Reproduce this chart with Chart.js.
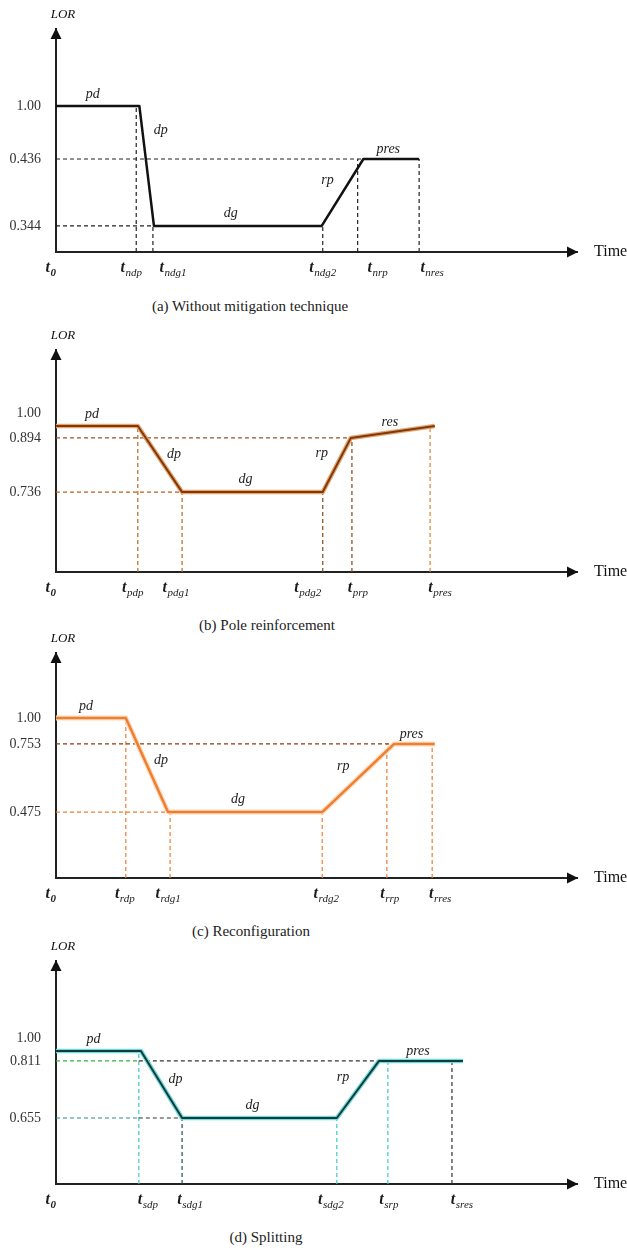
<!DOCTYPE html>
<html>
<head>
  <title>LOR over time - mitigation techniques</title>
  <meta charset="utf-8">
  <script src="https://cdn.jsdelivr.net/npm/chart.js"></script>
  <style>
    body {
      margin: 0;
      background: #fff;
    }
    .page {
      position: relative;
      width: 627px;
      height: 1248px;
      overflow: hidden;
    }
    .page canvas {
      position: absolute;
      left: 0;
    }
    .caption {
      position: absolute;
      font-family: "Liberation Serif", "DejaVu Serif", serif;
      font-size: 15px;
      line-height: 18px;
      color: #222;
      white-space: nowrap;
      transform: translateX(-50%);
    }
  </style>
</head>
<body>
  <div class="page" id="page"></div>

  <script>
    // ---- data ----
    // time is in arbitrary units (0 = t0, 100 = end of the time arrow)
    var timeA = [0, 16, 18.8, 51, 59, 69.7];
    var lorA = [1.00, 1.00, 0.344, 0.344, 0.436, 0.436];
    var tickTimeA = [15.4, 18.6, 51.2, 57.9, 69.7];
    var tickSubA = ['ndp', 'ndg1', 'ndg2', 'nrp', 'nres'];
    var levelsA = [0.344, 0.436, 1.00];
    var levelTextA = ['0.344', '0.436', '1.00'];
    var phasesA = ['pd', 'dp', 'dg', 'rp', 'pres'];

    var timeB = [0, 15.7, 24.2, 51.2, 56.6, 72.7];
    var lorB = [0.945, 0.945, 0.736, 0.736, 0.894, 0.945];
    var tickTimeB = [15.7, 24.2, 51.2, 56.8, 71.8];
    var tickSubB = ['pdp', 'pdg1', 'pdg2', 'prp', 'pres'];
    var levelsB = [0.736, 0.894, 1.00];
    var levelTextB = ['0.736', '0.894', '1.00'];
    var phasesB = ['pd', 'dp', 'dg', 'rp', 'res'];

    var timeC = [0, 13.4, 21.5, 51.1, 64.9, 72.7];
    var lorC = [1.00, 1.00, 0.475, 0.475, 0.753, 0.753];
    var tickTimeC = [13.4, 21.9, 51.1, 63.5, 72.2];
    var tickSubC = ['rdp', 'rdg1', 'rdg2', 'rrp', 'rres'];
    var levelsC = [0.475, 0.753, 1.00];
    var levelTextC = ['0.475', '0.753', '1.00'];
    var phasesC = ['pd', 'dp', 'dg', 'rp', 'pres'];

    var timeD = [0, 16.3, 24.2, 53.9, 62, 78.1];
    var lorD = [0.893, 0.893, 0.655, 0.655, 0.811, 0.811];
    var tickTimeD = [15.9, 24.2, 53.9, 63.7, 76.0];
    var tickSubD = ['sdp', 'sdg1', 'sdg2', 'srp', 'sres'];
    var levelsD = [0.655, 0.811, 1.00];
    var levelTextD = ['0.655', '0.811', '1.00'];
    var phasesD = ['pd', 'dp', 'dg', 'rp', 'pres'];

    // ---- layout and styling of the four panels ----
    // fracs: where each level tick sits, as a share of the axis height (schematic axis)
    // labelShift: pixel nudge of each time label from its tick
    var panels = [
      {
        id: 'a', time: timeA, lor: lorA, ticks: tickTimeA, subs: tickSubA,
        levels: levelsA, levelText: levelTextA, phases: phasesA,
        fracs: [0.117, 0.417, 0.655], top: 29, axis: 252,
        labelShift: [-5, 20, 0, 20, 13], phaseNudge: { 1: [0, -31] },
        caption: '(a) Without mitigation technique', capX: 250, capY: 306,
        line: '#111', lineWidth: 2.5, halo: null,
        hColors: ['#222', '#222'], vColors: ['#222', '#222', '#222', '#222', '#222']
      },
      {
        id: 'b', time: timeB, lor: lorB, ticks: tickTimeB, subs: tickSubB,
        levels: levelsB, levelText: levelTextB, phases: phasesB,
        fracs: [0.360, 0.604, 0.716], top: 350, axis: 572,
        labelShift: [-5, -6, -15, 6, 10], phaseNudge: {},
        caption: '(b) Pole reinforcement', capX: 267, capY: 625,
        line: '#7B3A0E', lineWidth: 2, halo: '#EBA36C',
        hColors: ['#B8611F', '#A0522D'], vColors: ['#C0651E', '#C0651E', '#8B4513', '#8B4513', '#E08030']
      },
      {
        id: 'c', time: timeC, lor: lorC, ticks: tickTimeC, subs: tickSubC,
        levels: levelsC, levelText: levelTextC, phases: phasesC,
        fracs: [0.293, 0.596, 0.711], top: 653, axis: 878,
        labelShift: [-1, -2, 4, 3, 8], phaseNudge: {},
        caption: '(c) Reconfiguration', capX: 251, capY: 931,
        line: '#F07E2C', lineWidth: 2.5, halo: '#FBDCC3',
        hColors: ['#ED7D31', '#8B3A0E'], vColors: ['#ED7D31', '#ED7D31', '#ED7D31', '#ED7D31', '#ED7D31']
      },
      {
        id: 'd', time: timeD, lor: lorD, ticks: tickTimeD, subs: tickSubD,
        levels: levelsD, levelText: levelTextD, phases: phasesD,
        fracs: [0.296, 0.552, 0.655], top: 961, axis: 1184,
        labelShift: [9, 8, -6, 1, 10], phaseNudge: {},
        caption: '(d) Splitting', capX: 266, capY: 1237,
        line: '#0F3D3D', lineWidth: 2, halo: '#72D9D9',
        hColors: [['#2A8C8C', '#333'], ['#33B533', '#333']],
        vColors: ['#3CC8C8', '#1F4F4F', '#3CC8C8', '#3CC8C8', '#333']
      }
    ];

    var serif = '"Liberation Serif", "DejaVu Serif", serif';
    var knotsByCanvas = {};

    // Schematic LOR axis: piecewise linear between the labelled levels
    class LevelScale extends Chart.LinearScale {
      toDecimal(v) {
        var k = knotsByCanvas[this.chart.canvas.id];
        for (var i = 1; i < k.values.length; i++) {
          if (v <= k.values[i] || i === k.values.length - 1) {
            return k.fracs[i - 1] + (v - k.values[i - 1]) / (k.values[i] - k.values[i - 1]) * (k.fracs[i] - k.fracs[i - 1]);
          }
        }
        return 0;
      }
      getPixelForValue(v) {
        if (v === null || v === undefined) return NaN;
        return this.getPixelForDecimal(this.toDecimal(v));
      }
      getValueForPixel(p) {
        var k = knotsByCanvas[this.chart.canvas.id];
        var d = this.getDecimalForPixel(p);
        for (var i = 1; i < k.fracs.length; i++) {
          if (d <= k.fracs[i] || i === k.fracs.length - 1) {
            return k.values[i - 1] + (d - k.fracs[i - 1]) / (k.fracs[i] - k.fracs[i - 1]) * (k.values[i] - k.values[i - 1]);
          }
        }
        return 0;
      }
    }
    LevelScale.id = 'level';
    LevelScale.defaults = {};
    Chart.register(LevelScale);

    function dashed(points, color) {
      return {
        data: points.map(function (pt) { return { x: pt[0], y: pt[1] }; }),
        borderColor: color,
        borderWidth: 1.2,
        borderDash: [4, 3],
        pointRadius: 0,
        fill: false
      };
    }

    // dashed helper lines from the axes to the break points
    function guideSets(p) {
      var sets = [];
      [2, 4].forEach(function (k, j) {
        var c = p.hColors[j];
        if (Array.isArray(c)) {
          sets.push(dashed([[0, p.lor[k]], [p.ticks[0], p.lor[k]]], c[0]));
          sets.push(dashed([[p.ticks[0], p.lor[k]], [p.time[k], p.lor[k]]], c[1]));
        } else {
          sets.push(dashed([[0, p.lor[k]], [p.time[k], p.lor[k]]], c));
        }
      });
      p.ticks.forEach(function (t, j) {
        sets.push(dashed([[t, 0], [t, p.lor[j + 1]]], p.vColors[j]));
      });
      return sets;
    }

    function drawTick(ctx, sub, x, y, alignRight) {
      var tFont = 'bold italic 16px ' + serif;
      var sFont = (sub === '0' ? 'bold ' : '') + 'italic 11px ' + serif;
      ctx.font = tFont;
      var w1 = ctx.measureText('t').width;
      ctx.font = sFont;
      var w2 = ctx.measureText(sub).width;
      var total = w1 + w2 + 0.5;
      var x0 = alignRight ? x - total : x - total / 2;
      ctx.textAlign = 'left';
      ctx.textBaseline = 'alphabetic';
      ctx.font = tFont;
      ctx.fillText('t', x0, y);
      ctx.font = sFont;
      ctx.fillText(sub, x0 + w1 + 0.5, y + 4);
    }

    // offsets of the phase names from the middle of each segment
    var phaseOffsets = [[-5, -12], [14, -5], [-7, -13], [-15, -12], [-3, -10]];

    function makeDecor(p) {
      return {
        id: 'decor',
        afterDraw: function (chart) {
          var ctx = chart.ctx;
          var a = chart.chartArea;
          var xs = chart.scales.x;
          var ys = chart.scales.y;
          ctx.save();
          ctx.fillStyle = '#111';

          // arrow heads
          ctx.beginPath();
          ctx.moveTo(a.left, a.top - 1);
          ctx.lineTo(a.left - 5.5, a.top + 10);
          ctx.lineTo(a.left + 5.5, a.top + 10);
          ctx.closePath();
          ctx.fill();
          ctx.beginPath();
          ctx.moveTo(a.right + 1, a.bottom);
          ctx.lineTo(a.right - 10, a.bottom - 5.5);
          ctx.lineTo(a.right - 10, a.bottom + 5.5);
          ctx.closePath();
          ctx.fill();

          // axis names
          ctx.font = 'italic 13px ' + serif;
          ctx.textAlign = 'center';
          ctx.textBaseline = 'alphabetic';
          ctx.fillText('LOR', a.left + 7, a.top - 11);
          ctx.font = '16px ' + serif;
          ctx.textAlign = 'left';
          ctx.textBaseline = 'middle';
          ctx.fillText('Time', a.right + 17, a.bottom);

          // time ticks with subscripts
          ctx.fillStyle = '#1a1a1a';
          drawTick(ctx, '0', xs.getPixelForValue(0), a.bottom + 20, true);
          p.ticks.forEach(function (t, j) {
            drawTick(ctx, p.subs[j], xs.getPixelForValue(t) + p.labelShift[j], a.bottom + 20, false);
          });

          // phase names
          ctx.font = 'italic 14px ' + serif;
          ctx.textAlign = 'center';
          ctx.textBaseline = 'middle';
          ctx.fillStyle = '#222';
          p.phases.forEach(function (name, i) {
            var mx = (xs.getPixelForValue(p.time[i]) + xs.getPixelForValue(p.time[i + 1])) / 2;
            var my = (ys.getPixelForValue(p.lor[i]) + ys.getPixelForValue(p.lor[i + 1])) / 2;
            var n = p.phaseNudge[i] || [0, 0];
            ctx.fillText(name, mx + phaseOffsets[i][0] + n[0], my + phaseOffsets[i][1] + n[1]);
          });
          ctx.restore();
        }
      };
    }

    var page = document.getElementById('page');
    var padTop = 30, padBottom = 40;

    panels.forEach(function (p) {
      var canvas = document.createElement('canvas');
      canvas.id = 'chart-' + p.id;
      canvas.width = 627;
      canvas.height = (p.axis - p.top) + padTop + padBottom;
      canvas.style.top = (p.top - padTop) + 'px';
      page.appendChild(canvas);

      knotsByCanvas[canvas.id] = {
        values: [0].concat(p.levels).concat([1.5]),
        fracs: [0].concat(p.fracs).concat([1])
      };

      var points = p.time.map(function (t, i) { return { x: t, y: p.lor[i] }; });
      var datasets = [{
        data: points,
        borderColor: p.line,
        borderWidth: p.lineWidth,
        borderJoinStyle: 'round',
        pointRadius: 0,
        fill: false
      }];
      if (p.halo) {
        datasets.push({
          data: points,
          borderColor: p.halo,
          borderWidth: p.lineWidth + 2.5,
          borderJoinStyle: 'round',
          pointRadius: 0,
          fill: false
        });
      }
      datasets = datasets.concat(guideSets(p));

      new Chart(canvas, {
        type: 'line',
        data: { datasets: datasets },
        options: {
          responsive: false,
          animation: false,
          devicePixelRatio: 1,
          layout: { padding: { top: padTop, bottom: padBottom, left: 0, right: 50 } },
          plugins: {
            legend: { display: false },
            tooltip: { enabled: false }
          },
          scales: {
            x: {
              type: 'linear',
              min: 0,
              max: 100,
              afterFit: function (s) { s.height = 0; },
              grid: { display: false },
              border: { color: '#222', width: 2 },
              ticks: { display: false }
            },
            y: {
              type: 'level',
              min: 0,
              max: 1.5,
              afterBuildTicks: function (s) {
                s.ticks = p.levels.map(function (v) { return { value: v }; });
              },
              afterFit: function (s) { s.width = 56; },
              grid: { display: false },
              border: { color: '#222', width: 2 },
              ticks: {
                autoSkip: false,
                padding: 7,
                color: '#333',
                font: { family: serif, size: 14 },
                callback: function (v, i) { return p.levelText[i]; }
              }
            }
          }
        },
        plugins: [makeDecor(p)]
      });

      var cap = document.createElement('div');
      cap.className = 'caption';
      cap.textContent = p.caption;
      cap.style.left = p.capX + 'px';
      cap.style.top = (p.capY - 9) + 'px';
      page.appendChild(cap);
    });
  </script>
</body>
</html>
